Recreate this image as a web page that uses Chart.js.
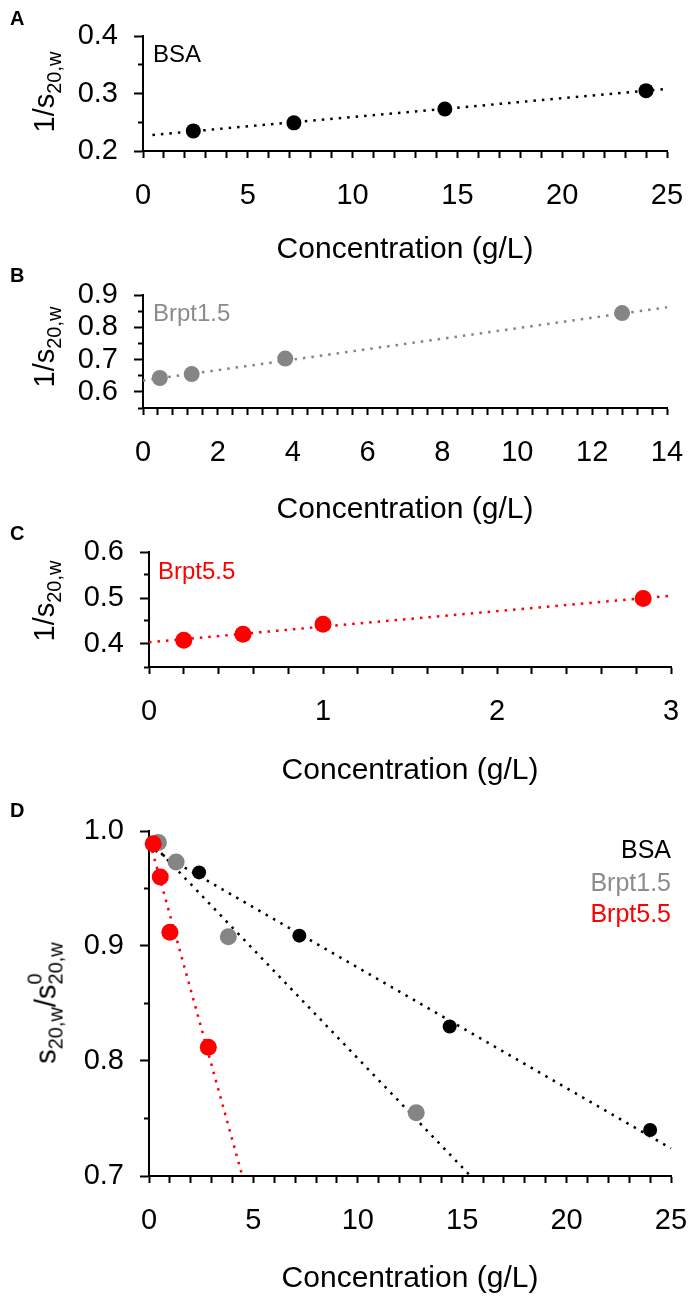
<!DOCTYPE html>
<html>
<head>
<meta charset="utf-8">
<script src="https://cdn.jsdelivr.net/npm/chart.js@4.4.1/dist/chart.umd.min.js"></script>
<style>
  html, body { margin: 0; padding: 0; background: #fff; }
  body { width: 692px; height: 1299px; position: relative; overflow: hidden; font-family: 'Liberation Sans', Arial, sans-serif; color: #000; }
  canvas { position: absolute; left: 0; }
  .letter { position: absolute; left: 10px; font-weight: bold; font-size: 20px; line-height: 1; transform: translateY(-50%); }
  .label { position: absolute; font-size: 24px; line-height: 1; transform: translateY(-50%); white-space: nowrap; }
  .ytitle { position: absolute; font-size: 29px; line-height: 1; white-space: nowrap; transform: translate(-50%, -50%) rotate(-90deg); }
  .ytitle sub, .ytitle sup { font-size: 20px; line-height: 0; }
  .ytitle sub { vertical-align: -7px; }
  .ytitle sup { vertical-align: 14px; }
  .stack { display: inline-block; width: 0; }
</style>
</head>
<body>
<canvas id="chartA" width="692" height="268" style="top:0px"></canvas>
<canvas id="chartB" width="692" height="260" style="top:268px"></canvas>
<canvas id="chartC" width="692" height="264" style="top:525px"></canvas>
<canvas id="chartD" width="692" height="513" style="top:784px"></canvas>

<div class="letter" style="top:18px">A</div>
<div class="letter" style="top:275px">B</div>
<div class="letter" style="top:533px">C</div>
<div class="letter" style="top:810px">D</div>

<div class="ytitle" style="left:44px; top:92px">1/s<sub>20,w</sub></div>
<div class="ytitle" style="left:44px; top:347px">1/s<sub>20,w</sub></div>
<div class="ytitle" style="left:44px; top:601px">1/s<sub>20,w</sub></div>
<div class="ytitle" style="left:46px; top:1003px">s<sub>20,w</sub>/s<sup class="stack">0</sup><sub>20,w</sub></div>

<div class="label" style="left:153px; top:54px; color:#000">BSA</div>
<div class="label" style="left:153px; top:313px; color:#8c8c8c">Brpt1.5</div>
<div class="label" style="left:158px; top:571px; color:#ff0000">Brpt5.5</div>
<div class="label" style="right:21px; top:849px; color:#000; font-size:25px">BSA</div>
<div class="label" style="right:21px; top:882px; color:#8c8c8c; font-size:25px">Brpt1.5</div>
<div class="label" style="right:21px; top:913px; color:#ff0000; font-size:25px">Brpt5.5</div>

<script>
// Panel A - BSA, 1/s vs concentration
const bsaConc = [2.4, 7.2, 14.4, 24];
const bsaInvS = [0.235, 0.249, 0.273, 0.305];
const bsaFitConc = [0.45, 25];
const bsaFitInvS = [0.228, 0.308];

// Panel B - Brpt1.5
const brpt15Conc = [0.45, 1.3, 3.8, 12.8];
const brpt15InvS = [0.643, 0.655, 0.703, 0.844];
const brpt15FitConc = [0, 14];
const brpt15FitInvS = [0.635, 0.862];

// Panel C - Brpt5.5
const brpt55Conc = [0.2, 0.54, 1.0, 2.84];
const brpt55InvS = [0.408, 0.421, 0.443, 0.499];
const brpt55FitConc = [0, 3];
const brpt55FitInvS = [0.404, 0.505];

// Panel D - s/s0 for all three
const bsaRatio = [0.964, 0.909, 0.830, 0.740];
const brpt15Ratio = [0.990, 0.973, 0.908, 0.755];
const brpt55Ratio = [0.989, 0.960, 0.912, 0.812];
const bsaRatioFitConc = [0.3, 25];
const bsaRatioFit = [0.983, 0.724];
const brpt15RatioFitConc = [0.3, 15.4];
const brpt15RatioFit = [0.986, 0.7];
const brpt55RatioFitConc = [0.15, 4.47];
const brpt55RatioFit = [0.983, 0.7];

// tick labels
const xTicksA = ['0', '5', '10', '15', '20', '25'];
const xTicksB = ['0', '2', '4', '6', '8', '10', '12', '14'];
const xTicksC = ['0', '1', '2', '3'];
const xTicksD = ['0', '5', '10', '15', '20', '25'];
const yTicksA = ['0.2', '0.3', '0.4'];
const yTicksB = ['0.6', '0.7', '0.8', '0.9'];
const yTicksC = ['0.4', '0.5', '0.6'];
const yTicksD = ['0.7', '0.8', '0.9', '1.0'];

const GREY = '#858585';
const RED = '#ff0000';
const BLACK = '#000000';

Chart.defaults.font.family = "'Liberation Sans', Arial, sans-serif";
Chart.defaults.color = '#000';

function toPoints(xs, ys) {
    return xs.map((x, i) => ({ x: x, y: ys[i] }));
}

function findLabel(list, v) {
    return list.find(t => Math.abs(parseFloat(t) - v) < 1e-6);
}

// label only the listed ticks, leave the minor ones blank
function pickLabel(list, v) {
    const hit = findLabel(list, v);
    return hit === undefined ? '' : hit;
}

function dots(xs, ys, color, r) {
    return {
        data: toPoints(xs, ys),
        backgroundColor: color,
        borderColor: color,
        borderWidth: 0,
        pointRadius: r,
        showLine: false,
        clip: false
    };
}

function fitLine(xs, ys, color) {
    return {
        data: toPoints(xs, ys),
        borderColor: color,
        borderWidth: 2.5,
        borderDash: [2.5, 6],
        pointRadius: 0,
        showLine: true,
        fill: false,
        clip: false
    };
}

function makePanel(id, cfg) {
    new Chart(document.getElementById(id), {
        type: 'scatter',
        data: { datasets: cfg.datasets },
        options: {
            responsive: false,
            animation: false,
            events: [],
            layout: { padding: { top: cfg.padTop, right: cfg.padRight, left: 0, bottom: 0 } },
            plugins: { legend: { display: false }, tooltip: { enabled: false } },
            scales: {
                x: {
                    type: 'linear',
                    min: cfg.xMin,
                    max: cfg.xMax,
                    afterFit: s => {
                        s.height = cfg.xHeight;
                        s.paddingLeft = 0;
                        s.paddingRight = 0;
                    },
                    border: { display: true, color: '#000', width: 2 },
                    grid: { drawOnChartArea: false, drawTicks: true, tickLength: 7, tickWidth: 2, tickColor: '#000' },
                    ticks: {
                        stepSize: cfg.xStep,
                        autoSkip: false,
                        maxRotation: 0,
                        padding: 21,
                        font: { size: 29 },
                        callback: v => pickLabel(cfg.xLabels, v)
                    },
                    title: { display: true, text: 'Concentration (g/L)', font: { size: 30 }, padding: 0 }
                },
                y: {
                    type: 'linear',
                    min: cfg.yMin,
                    max: cfg.yMax,
                    afterFit: s => {
                        s.width = cfg.left;
                        s.paddingTop = 0;
                        s.paddingBottom = 0;
                    },
                    border: { display: true, color: '#000', width: 2 },
                    grid: {
                        drawOnChartArea: false, drawTicks: true, tickLength: 9, tickWidth: 2, tickColor: '#000',
                        // minor ticks: skip the outer part so they look shorter
                        tickBorderDash: ctx => (ctx.tick && findLabel(cfg.yLabels, ctx.tick.value) === undefined) ? [0, 4, 6, 0] : []
                    },
                    ticks: {
                        stepSize: 0.05,
                        autoSkip: false,
                        padding: 16,
                        font: { size: 29 },
                        callback: v => pickLabel(cfg.yLabels, v)
                    }
                }
            }
        }
    });
}

makePanel('chartA', {
    padTop: 36, padRight: 25, left: 143, xHeight: 117,
    xMin: 0, xMax: 25, xStep: 1, xLabels: xTicksA,
    yMin: 0.2, yMax: 0.4, yLabels: yTicksA,
    datasets: [
        dots(bsaConc, bsaInvS, BLACK, 7.5),
        fitLine(bsaFitConc, bsaFitInvS, BLACK)
    ]
});

makePanel('chartB', {
    padTop: 27, padRight: 25, left: 143, xHeight: 120,
    xMin: 0, xMax: 14, xStep: 0.4, xLabels: xTicksB,
    yMin: 0.55, yMax: 0.9, yLabels: yTicksB,
    datasets: [
        dots(brpt15Conc, brpt15InvS, GREY, 8),
        fitLine(brpt15FitConc, brpt15FitInvS, GREY)
    ]
});

makePanel('chartC', {
    padTop: 27, padRight: 21, left: 149, xHeight: 122,
    xMin: 0, xMax: 3, xStep: 0.2, xLabels: xTicksC,
    yMin: 0.35, yMax: 0.6, yLabels: yTicksC,
    datasets: [
        dots(brpt55Conc, brpt55InvS, RED, 8.5),
        fitLine(brpt55FitConc, brpt55FitInvS, RED)
    ]
});

makePanel('chartD', {
    padTop: 47, padRight: 21, left: 149, xHeight: 121,
    xMin: 0, xMax: 25, xStep: 1, xLabels: xTicksD,
    yMin: 0.7, yMax: 1.0, yLabels: yTicksD,
    datasets: [
        dots(brpt55Conc, brpt55Ratio, RED, 8.5),
        dots(brpt15Conc, brpt15Ratio, GREY, 8.5),
        dots(bsaConc, bsaRatio, BLACK, 7),
        fitLine(brpt55RatioFitConc, brpt55RatioFit, RED),
        fitLine(brpt15RatioFitConc, brpt15RatioFit, BLACK),
        fitLine(bsaRatioFitConc, bsaRatioFit, BLACK)
    ]
});
</script>
</body>
</html>
